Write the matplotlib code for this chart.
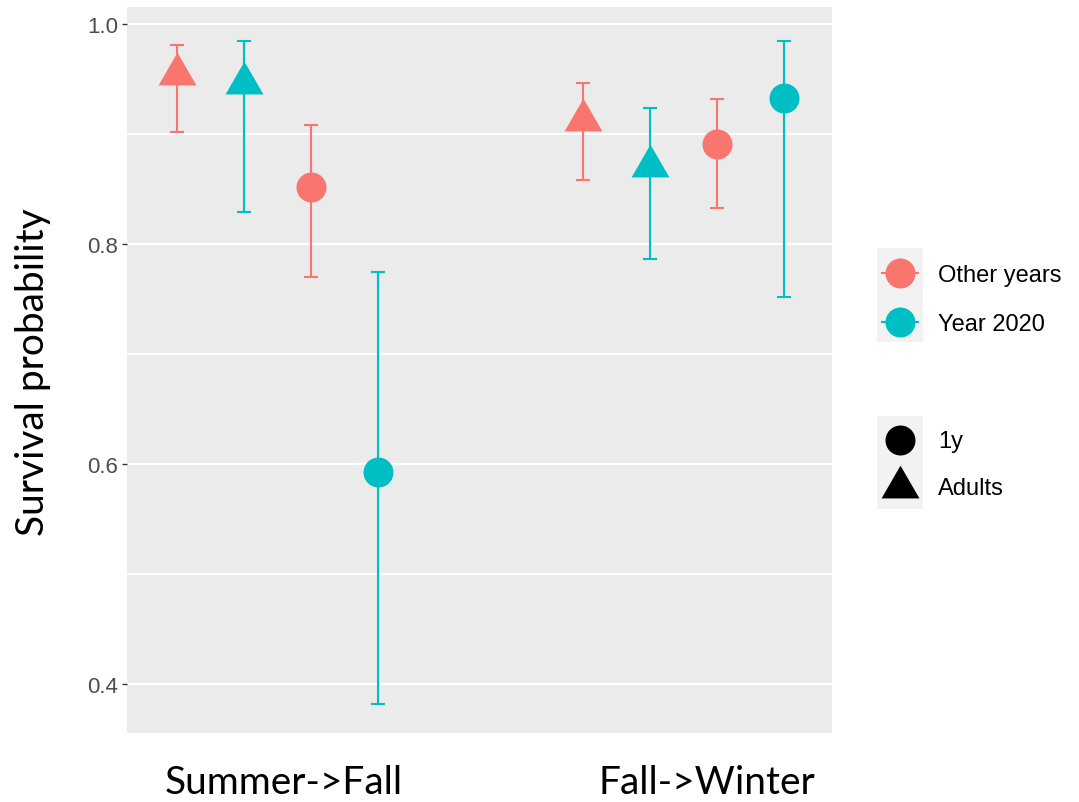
import numpy as np
import matplotlib
matplotlib.use('Agg')
import matplotlib.pyplot as plt
from matplotlib.path import Path
from matplotlib.patches import Rectangle

# data
transitions = ['Summer->Fall', 'Fall->Winter']
ages = ['Adults', 'Adults', '1y', '1y']
periods = ['Other years', 'Year 2020', 'Other years', 'Year 2020']
surv = [[0.955, 0.946, 0.852, 0.593],
        [0.913, 0.871, 0.891, 0.933]]
lower = [[0.902, 0.829, 0.770, 0.382],
         [0.858, 0.786, 0.833, 0.752]]
upper = [[0.981, 0.985, 0.908, 0.775],
         [0.946, 0.924, 0.932, 0.985]]
yticks = [0.4, 0.6, 0.8, 1.0]

colors = {'Other years': '#F8766D', 'Year 2020': '#00BFC4'}
# triangle centred on its centroid, like R's pch 17
tri = Path([(0, 1), (-0.866, -0.5), (0.866, -0.5), (0, 1)],
           [Path.MOVETO, Path.LINETO, Path.LINETO, Path.CLOSEPOLY])
markers = {'1y': 'o', 'Adults': tri}
msizes = {'1y': 21.6, 'Adults': 31.5}

W, H = 1079, 803
fig = plt.figure(figsize=(W / 100, H / 100), dpi=100)
ax = fig.add_axes([127 / W, 1 - 734 / H, 705 / W, 726 / H])
ax.set_facecolor('#EBEBEB')

dodge = np.array([-3, -1, 1, 3]) * 0.66 / 8
for i, t in enumerate(transitions):
    for j in range(len(ages)):
        x = i + 1 + dodge[j]
        s, lo, up = surv[i][j], lower[i][j], upper[i][j]
        c = colors[periods[j]]
        ax.errorbar([x], [s], yerr=[[s - lo], [up - s]], fmt='none',
                    ecolor=c, elinewidth=1.5, capsize=5, capthick=1.5, zorder=3)
        ax.plot([x], [s], linestyle='none', marker=markers[ages[j]],
                markersize=msizes[ages[j]], color=c, markeredgewidth=0, zorder=4)

ax.set_xlim(0.6286, 2.365)
ax.set_ylim(0.3555, 1.0155)
ax.set_yticks(yticks)
ax.set_yticklabels(['%.1f' % v for v in yticks])
ax.set_yticks([0.5, 0.7, 0.9], minor=True)
ax.set_xticks([])
ax.grid(which='major', axis='y', color='white', linewidth=1.6)
ax.grid(which='minor', axis='y', color='white', linewidth=1.3)
ax.set_axisbelow(True)
ax.tick_params(axis='y', which='major', length=3.5, width=1, color='#333333',
               labelcolor='#4D4D4D', labelsize=16, pad=3)
ax.tick_params(axis='y', which='minor', length=0)
for lab in ax.get_yticklabels():
    lab.set_family('Liberation Sans')
for sp in ax.spines.values():
    sp.set_visible(False)

fig.text(33 / W, 1 - 372 / H, 'Survival probability', rotation=90,
         ha='center', va='center', family='Lato', fontsize=28)
fig.text(284 / W, 1 - 783 / H, transitions[0], ha='center', va='center',
         family='Lato', fontsize=28)
fig.text(707 / W, 1 - 783 / H, transitions[1], ha='center', va='center',
         family='Lato', fontsize=28)

# legends, drawn in pixel space
lax = fig.add_axes([0, 0, 1, 1])
lax.set_xlim(0, W)
lax.set_ylim(H, 0)
lax.axis('off')
lax.patch.set_alpha(0)

col_levels = list(dict.fromkeys(periods))
lax.add_patch(Rectangle((877, 249), 46, 94, facecolor='#F2F2F2', edgecolor='none'))
for k, p in enumerate(col_levels):
    yk = 274 + k * 49
    lax.plot([882, 918], [yk, yk], color=colors[p], lw=1.5)
    lax.plot([900], [yk], marker='o', markersize=21.6, color=colors[p], markeredgewidth=0)
    lax.text(938, yk + 2, p, ha='left', va='center', family='Liberation Sans',
             fontsize=17, color='black')

shape_levels = sorted(set(ages))
lax.add_patch(Rectangle((877, 417), 46, 93, facecolor='#F2F2F2', edgecolor='none'))
for k, a in enumerate(shape_levels):
    yk = 441 + k * 47
    lax.plot([900], [yk], marker=markers[a], markersize=msizes[a], color='black',
             markeredgewidth=0)
    lax.text(938, yk + 1, a, ha='left', va='center', family='Liberation Sans',
             fontsize=17, color='black')

fig.savefig('out.png', dpi=100, facecolor='white')
